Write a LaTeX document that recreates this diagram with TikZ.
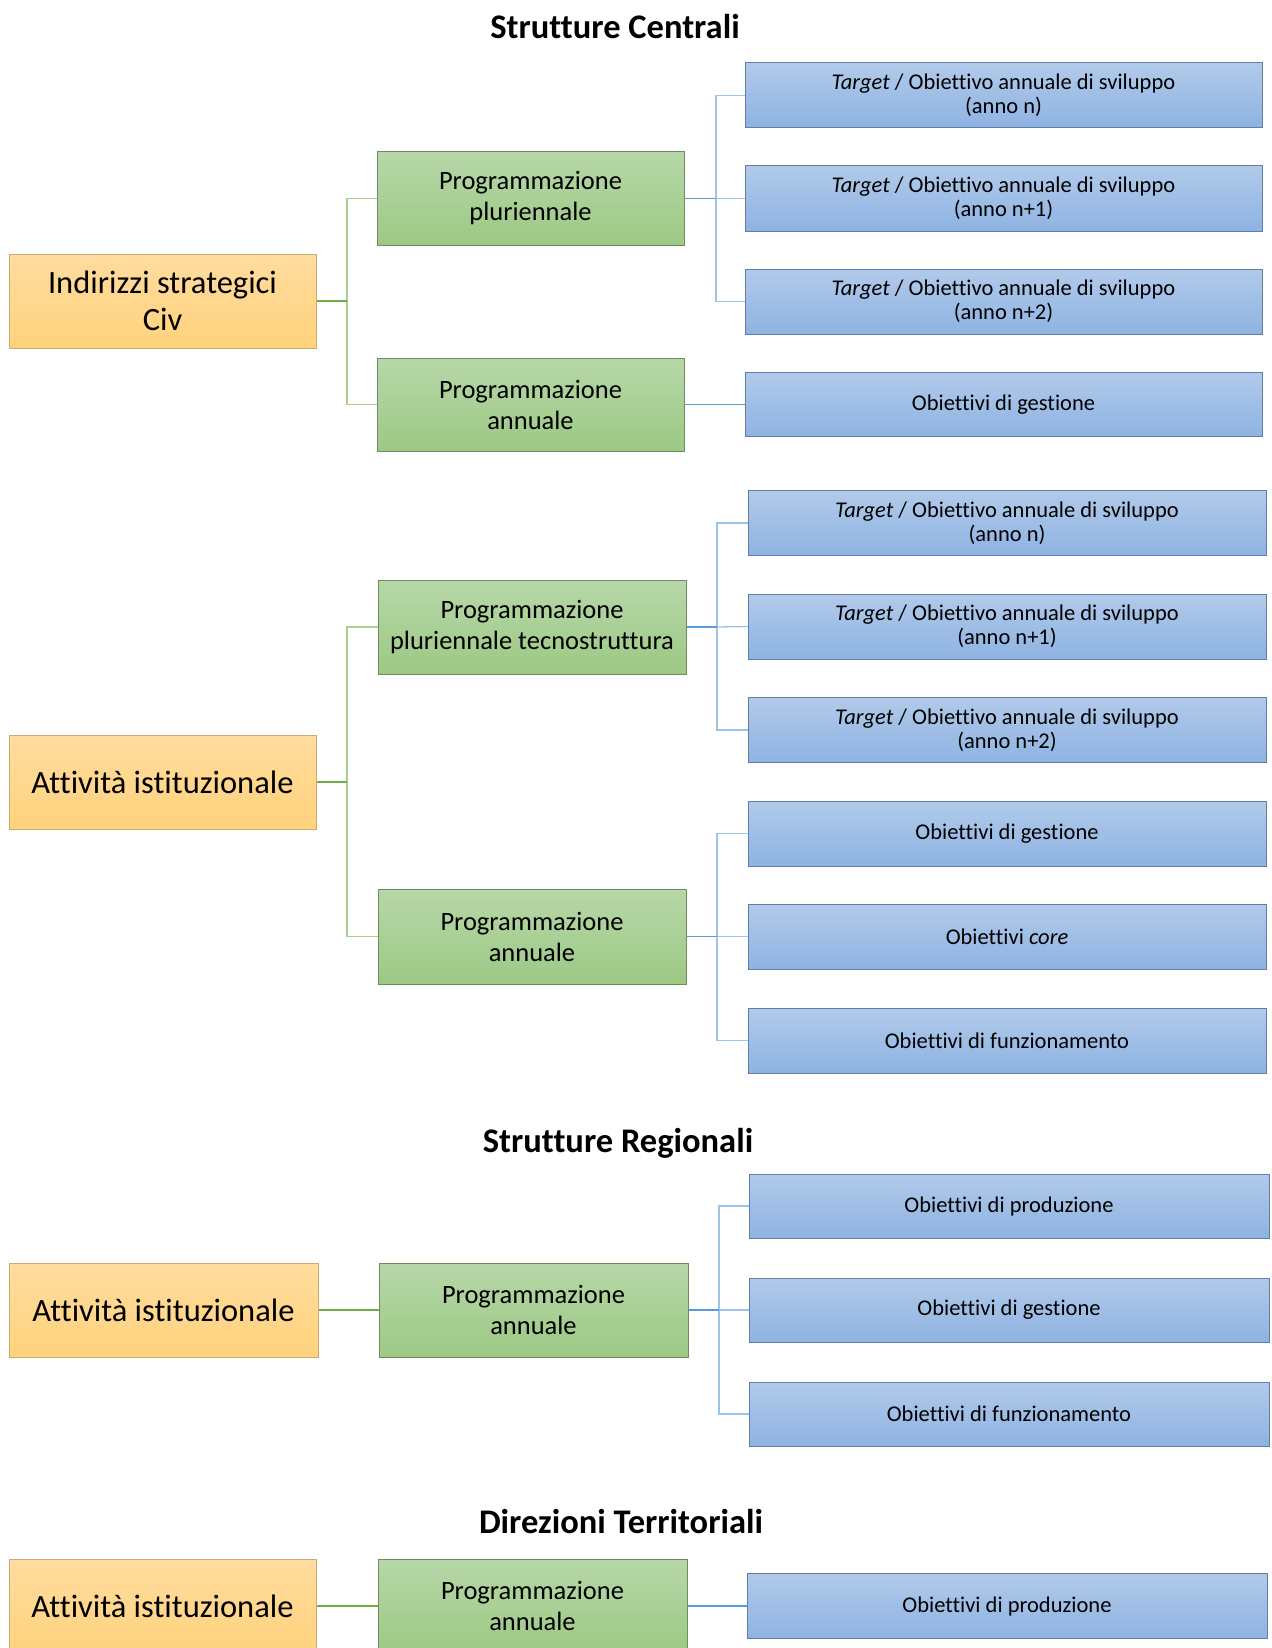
\documentclass[tikz,border=0pt]{standalone}
\usepackage{fontspec}
\setmainfont{Carlito}[Ligatures=NoCommon]
\definecolor{ytop}{HTML}{FFDC9F}
\definecolor{ybot}{HTML}{FFD27C}
\definecolor{ybord}{HTML}{C9AC74}
\definecolor{gtop}{HTML}{B7D7A8}
\definecolor{gbot}{HTML}{9CC984}
\definecolor{gbord}{HTML}{6F8C62}
\definecolor{btop}{HTML}{B1CAEA}
\definecolor{bbot}{HTML}{8EB3E2}
\definecolor{bbord}{HTML}{617FA6}
\definecolor{gdark}{HTML}{70AD47}
\definecolor{glight}{HTML}{A9D18E}
\definecolor{bdark}{HTML}{5B9BD5}
\definecolor{blight}{HTML}{9DC3E6}
\begin{document}
\begin{tikzpicture}[x=1pt,y=-1pt,
  every node/.style={inner sep=0pt, align=center, text=black},
  ybox/.style={draw=ybord, line width=1pt, top color=ytop, bottom color=ybot,
    minimum width=307pt, minimum height=94pt,
    font=\fontsize{32.5}{37}\selectfont},
  gbox/.style={draw=gbord, line width=1pt, top color=gtop, bottom color=gbot,
    minimum width=308pt, minimum height=93pt,
    font=\fontsize{26.5}{31}\selectfont},
  bbox/.style={draw=bbord, line width=1pt, top color=btop, bottom color=bbot,
    minimum width=518pt, minimum height=65pt,
    font=\fontsize{22.5}{24}\selectfont},
  heading/.style={font=\bfseries\fontsize{34.5}{40}\selectfont},
  gstub/.style={draw=gdark, line width=1.3pt},
  gline/.style={draw=glight, line width=1.3pt},
  bstub/.style={draw=bdark, line width=1.3pt},
  bline/.style={draw=blight, line width=1.3pt}]
\useasboundingbox (0,0) rectangle (1271,1648);
\clip (0,0) rectangle (1271,1648);

% ---------- Strutture Centrali ----------
\node[heading] (h1) at (615,27) {Strutture Centrali};
\node[ybox] (Y1) at (162.5,301) {Indirizzi strategici\\Civ};
\node[gbox, minimum width=307pt] (G1a) at (530.5,198.5) {Programmazione\\pluriennale};
\node[gbox, minimum width=307pt] (G1b) at (530.5,404.5) {Programmazione\\annuale};
\node[bbox, minimum width=517pt] (B1a) at (1003.5,95.5) {\textit{Target} / Obiettivo annuale di sviluppo\\(anno n)};
\node[bbox, minimum width=517pt] (B1b) at (1003.5,198.5) {\textit{Target} / Obiettivo annuale di sviluppo\\(anno n+1)};
\node[bbox, minimum width=517pt] (B1c) at (1003.5,301.5) {\textit{Target} / Obiettivo annuale di sviluppo\\(anno n+2)};
\node[bbox, minimum width=517pt, minimum height=64pt] (B1d) at (1003.5,404.5) {Obiettivi di gestione};

\coordinate (t1) at (347,0);
\coordinate (u1) at (716,0);
\draw[gline] (Y1.east -| t1) |- (G1a.west);
\draw[gline] (Y1.east -| t1) |- (G1b.west);
\draw[gstub] (Y1.east) -- (Y1.east -| t1);
\draw[bline] (G1a.east -| u1) |- (B1a.west);
\draw[bline] (G1a.east -| u1) |- (B1c.west);
\draw[bline] (G1a.east -| u1) -- (B1b.west);
\draw[bstub] (G1a.east) -- (G1a.east -| u1);
\draw[bstub] (G1b.east) -- (B1d.west);

% ---------- Attivita istituzionale (centrale) ----------
\node[ybox] (Y2) at (162.5,782) {Attività istituzionale};
\node[gbox, minimum height=94pt] (G2a) at (532,627) {Programmazione\\pluriennale tecnostruttura};
\node[gbox, minimum height=95pt] (G2b) at (532,936.5) {Programmazione\\annuale};
\node[bbox] (B2a) at (1007,523) {\textit{Target} / Obiettivo annuale di sviluppo\\(anno n)};
\node[bbox] (B2b) at (1007,626.5) {\textit{Target} / Obiettivo annuale di sviluppo\\(anno n+1)};
\node[bbox] (B2c) at (1007,730) {\textit{Target} / Obiettivo annuale di sviluppo\\(anno n+2)};
\node[bbox] (B2d) at (1007,833.5) {Obiettivi di gestione};
\node[bbox] (B2e) at (1007,936.5) {Obiettivi \textit{core}};
\node[bbox] (B2f) at (1007,1040.5) {Obiettivi di funzionamento};

\coordinate (t2) at (347,0);
\coordinate (u2) at (717,0);
\draw[gline] (Y2.east -| t2) |- (G2a.west);
\draw[gline] (Y2.east -| t2) |- (G2b.west);
\draw[gstub] (Y2.east) -- (Y2.east -| t2);
\draw[bline] (G2a.east -| u2) |- (B2a.west);
\draw[bline] (G2a.east -| u2) |- (B2c.west);
\draw[bline] (G2a.east -| u2) -- (B2b.west);
\draw[bstub] (G2a.east) -- (G2a.east -| u2);
\draw[bline] (G2b.east -| u2) |- (B2d.west);
\draw[bline] (G2b.east -| u2) |- (B2f.west);
\draw[bline] (G2b.east -| u2) -- (B2e.west);
\draw[bstub] (G2b.east) -- (G2b.east -| u2);

% ---------- Strutture Regionali ----------
\node[heading] (h2) at (618,1143) {Strutture Regionali};
\node[ybox, minimum width=309pt] (Y3) at (163.5,1310) {Attività istituzionale};
\node[gbox, minimum width=309pt, minimum height=94pt] (G3) at (533.5,1310) {Programmazione\\annuale};
\node[bbox, minimum width=520pt, minimum height=64pt] (B3a) at (1009,1206) {Obiettivi di produzione};
\node[bbox, minimum width=520pt, minimum height=64pt] (B3b) at (1009,1310) {Obiettivi di gestione};
\node[bbox, minimum width=520pt, minimum height=64pt] (B3c) at (1009,1414) {Obiettivi di funzionamento};

\coordinate (u3) at (719,0);
\draw[gstub] (Y3.east) -- (G3.west);
\draw[bline] (G3.east -| u3) |- (B3a.west);
\draw[bline] (G3.east -| u3) |- (B3c.west);
\draw[bline] (G3.east -| u3) -- (B3b.west);
\draw[bstub] (G3.east) -- (G3.east -| u3);

% ---------- Direzioni Territoriali ----------
\node[heading] (h3) at (621,1522) {Direzioni Territoriali};
\node[ybox] (Y4) at (162.5,1606) {Attività istituzionale};
\node[gbox, minimum width=309pt, minimum height=94pt] (G4) at (532.5,1606) {Programmazione\\annuale};
\node[bbox, minimum width=520pt] (B4) at (1007,1606) {Obiettivi di produzione};

\draw[gstub] (Y4.east) -- (G4.west);
\draw[bstub] (G4.east) -- (B4.west);
\end{tikzpicture}
\end{document}
